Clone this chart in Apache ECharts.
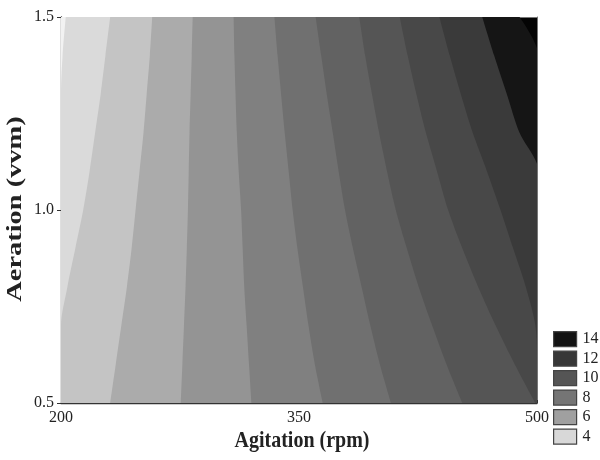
<!DOCTYPE html>
<html>
<head>
<meta charset="utf-8">
<script src="https://cdn.jsdelivr.net/npm/echarts@6/dist/echarts.min.js"></script>
<style>
  html, body { margin: 0; padding: 0; background: #fff; }
  #chart { width: 600px; height: 460px; }
</style>
</head>
<body>
<div id="chart"></div>
<script>
// aeration levels (vvm), bottom to top
const aeration = ['0.5', '0.6', '0.7', '0.8', '0.9', '1.0', '1.1', '1.2', '1.3', '1.4', '1.5'];

// contour boundaries: agitation (rpm) where each band ends, read at each aeration level
const edge1 = [200, 200, 200, 200, 200, 200, 200, 200, 200, 201, 203];
const edge2 = [200, 200, 200, 204, 209, 214, 218, 221.5, 225, 228, 231];
const edge3 = [231, 234.5, 238, 241.5, 244.5, 247, 249.5, 252, 254, 256, 257.5];
const edge4 = [275.5, 276.5, 277.5, 278.5, 279.3, 280, 280.5, 281, 281.7, 282.4, 283];
const edge5 = [320, 318.5, 317, 315.5, 314.5, 313.5, 312, 310.8, 310, 309.3, 308.8];
const edge6 = [365, 360, 356, 352.5, 349, 346, 343.5, 341, 338.7, 336.5, 334.5];
const edge7 = [408, 401, 395, 389.5, 384, 379, 375, 371.3, 367.5, 364, 360.5];
const edge8 = [453, 443, 434, 425.5, 418, 411, 405.5, 400.5, 396, 391.7, 388];
const edge9 = [499, 486, 474, 463, 453, 444, 437, 430, 424, 418.5, 413.5];
const edge10 = [500, 500, 499, 493, 485, 477, 468.5, 459.5, 452, 445, 438.5];
const edge11 = [500, 500, 500, 500, 500, 500, 501, 489, 481, 473, 465.5];
const edge12 = [500, 500, 500, 500, 500, 500, 500, 500, 500, 501, 489];

const edges = [edge1, edge2, edge3, edge4, edge5, edge6, edge7, edge8, edge9, edge10, edge11, edge12];

// legend
const legendLabels = ['14', '12', '10', '8', '6', '4'];

// axis ticks / labels
const xLabels = [200, 350, 500];
const xTopTicks = [225, 250, 275, 300, 325, 350, 375, 400, 425, 450, 475];
const yRightTicks = [0.5833, 0.6667, 0.75, 0.8333, 0.9167, 1.0, 1.0833, 1.1667, 1.25, 1.3333, 1.4167];

// band shades, lightest (left of edge1) to darkest (right of edge12)
const bandColors = ['#f2f2f2', '#dadada', '#c4c4c4', '#ababab', '#949494', '#808080', '#707070',
  '#626262', '#555555', '#484848', '#3a3a3a', '#151515', '#040404'];
const legendColors = ['#131313', '#373737', '#555555', '#757575', '#a0a0a0', '#d8d8d8'];

const font = '"Liberation Serif", "DejaVu Serif", serif';

const chart = echarts.init(document.getElementById('chart'), null, { renderer: 'canvas' });

const series = [];
// draw darkest first, each band fills from the left edge to its boundary
for (let k = edges.length - 1; k >= 0; k--) {
  series.push({
    name: 'edge' + (k + 1),
    type: 'line',
    xAxisIndex: 0,
    yAxisIndex: 0,
    data: edges[k],
    smooth: 0.3,
    showSymbol: false,
    silent: true,
    clip: true,
    lineStyle: { width: 0, opacity: 0 },
    areaStyle: { color: bandColors[k], opacity: 1 }
  });
}
legendLabels.forEach((label, i) => {
  series.push({
    name: label,
    type: 'line',
    data: [],
    itemStyle: { color: legendColors[i] },
    lineStyle: { color: legendColors[i] }
  });
});

const option = {
  animation: false,
  backgroundColor: '#fff',
  grid: {
    left: 61,
    right: 63,
    top: 17,
    bottom: 57,
    show: true,
    borderWidth: 0,
    backgroundColor: bandColors[bandColors.length - 1]
  },
  legend: {
    data: legendLabels,
    orient: 'vertical',
    left: 553,
    top: 331,
    padding: 0,
    icon: 'rect',
    itemWidth: 23,
    itemHeight: 15,
    itemGap: 3.3,
    itemStyle: { borderColor: '#444', borderWidth: 1.2 },
    textStyle: { fontFamily: font, fontSize: 16, color: '#222', padding: [0, 0, 0, 1] },
    selectedMode: false
  },
  xAxis: [
    {
      type: 'value',
      min: 200,
      max: 500,
      position: 'bottom',
      splitLine: { show: false },
      axisLine: { show: true, lineStyle: { color: '#333', width: 1.3 } },
      axisTick: { show: true, inside: true, length: 3, customValues: xLabels, lineStyle: { color: '#333' } },
      axisLabel: { customValues: xLabels, fontFamily: font, fontSize: 16, color: '#222', margin: 7 }
    },
    {
      type: 'value',
      min: 200,
      max: 500,
      position: 'top',
      splitLine: { show: false },
      axisLine: { show: true, lineStyle: { color: '#777', width: 1 } },
      axisTick: { show: true, inside: true, length: 3, customValues: xTopTicks, lineStyle: { color: '#555' } },
      axisLabel: { show: false }
    }
  ],
  yAxis: [
    {
      type: 'category',
      data: aeration,
      boundaryGap: false,
      position: 'left',
      splitLine: { show: false },
      axisLine: { show: true, lineStyle: { color: '#333', width: 1.3 } },
      axisTick: { show: true, interval: 4, length: 4, lineStyle: { color: '#333' } },
      axisLabel: { interval: 4, fontFamily: font, fontSize: 16, color: '#222', margin: 7 }
    },
    {
      type: 'value',
      min: 0.5,
      max: 1.5,
      position: 'right',
      splitLine: { show: false },
      axisLine: { show: true, lineStyle: { color: '#777', width: 1 } },
      axisTick: { show: true, inside: true, length: 3, customValues: yRightTicks, lineStyle: { color: '#555' } },
      axisLabel: { show: false }
    }
  ],
  graphic: [
    {
      type: 'text',
      x: 302,
      y: 441,
      scaleY: 1.15,
      style: {
        text: 'Agitation (rpm)',
        font: 'bold 20px ' + font,
        fill: '#222',
        align: 'center',
        verticalAlign: 'middle'
      }
    },
    {
      type: 'text',
      x: 16,
      y: 209,
      rotation: Math.PI / 2,
      scaleX: 1.42,
      style: {
        text: 'Aeration (vvm)',
        font: 'bold 20px ' + font,
        fill: '#222',
        align: 'center',
        verticalAlign: 'middle'
      }
    }
  ],
  series: series
};

chart.setOption(option);
</script>
</body>
</html>
